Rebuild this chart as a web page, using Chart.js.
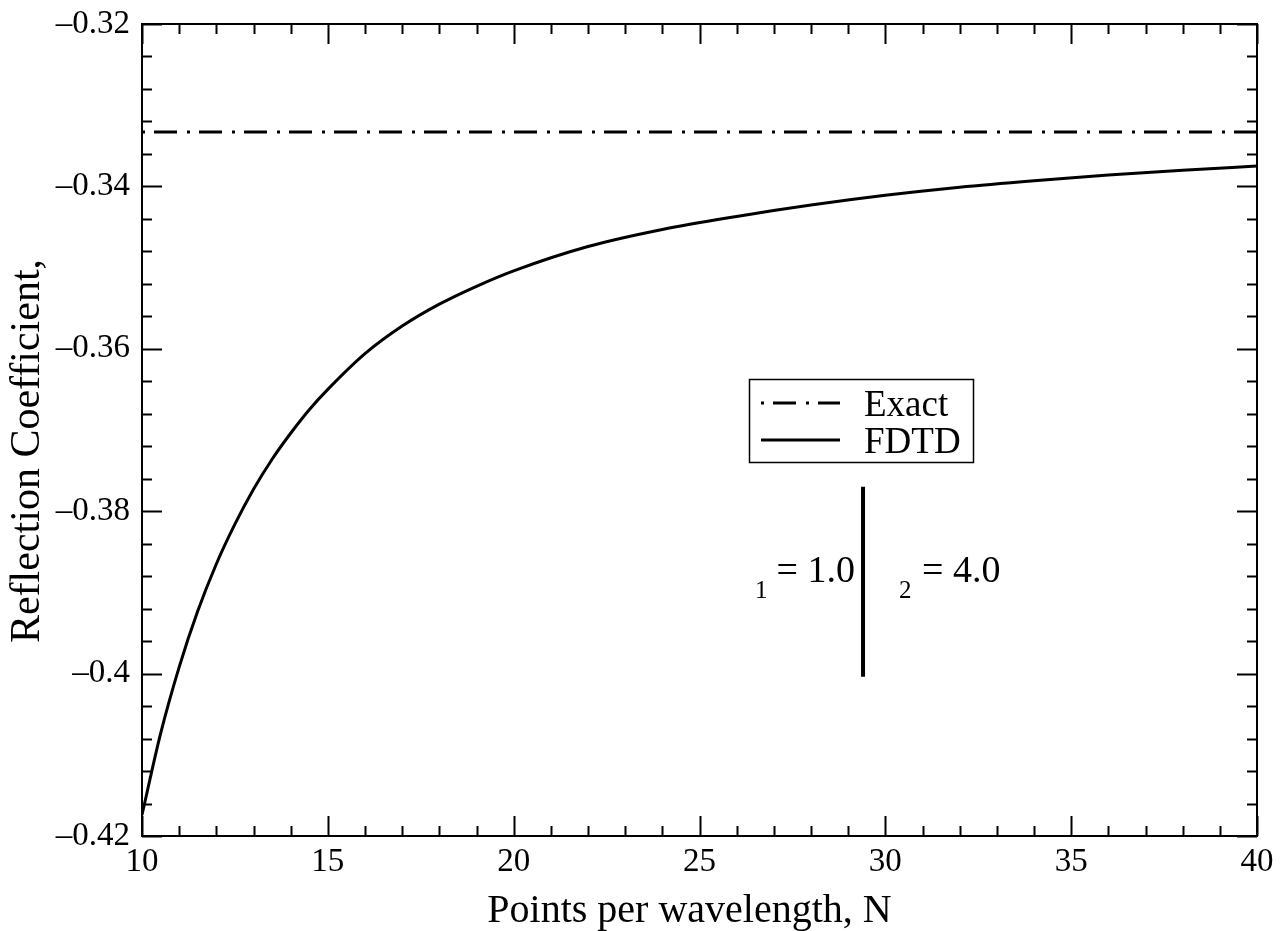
<!DOCTYPE html>
<html>
<head>
<meta charset="utf-8">
<script src="https://cdn.jsdelivr.net/npm/chart.js@4.4.1/dist/chart.umd.min.js"></script>
<style>
  html, body { margin: 0; padding: 0; background: #fff; }
</style>
</head>
<body>
<canvas id="reflChart" width="1285" height="931"></canvas>
<script>
// values
const fdtdN = [10, 10.5, 11, 11.5, 12, 12.5, 13, 13.5, 14, 14.5, 15, 16, 17, 18, 19, 20, 22, 24, 26, 28, 30, 32, 34, 36, 38, 40];
const fdtdR = [-0.4174, -0.4074, -0.3992, -0.3923, -0.3865, -0.3816, -0.3773, -0.3736, -0.3704, -0.3675, -0.3650,
               -0.3606, -0.3572, -0.3545, -0.3523, -0.3504, -0.3474, -0.3453, -0.3437, -0.3423, -0.3411, -0.3401,
               -0.3393, -0.3386, -0.3380, -0.3375];
const exactN = [10, 40];
const exactR = [-0.3333, -0.3333];
const interfaceN = [29.4, 29.4];
const interfaceR = [-0.3770, -0.4004];

const xTicks = [10, 15, 20, 25, 30, 35, 40];
const yTicks = [-0.42, -0.40, -0.38, -0.36, -0.34, -0.32];
const yTickLabels = ['\u20130.42', '\u20130.4', '\u20130.38', '\u20130.36', '\u20130.34', '\u20130.32'];

const serif = '"Liberation Serif", "Times New Roman", serif';

function toPoints(xs, ys) {
    return xs.map((v, i) => ({ x: v, y: ys[i] }));
}

// box, inward ticks on all four sides, legend and the two labels
const decorations = {
    id: 'decorations',
    afterDatasetsDraw(chart) {
        const { ctx, chartArea: a, scales: { x, y } } = chart;
        ctx.save();
        ctx.strokeStyle = '#000';
        ctx.fillStyle = '#000';
        ctx.lineWidth = 2;
        ctx.lineCap = 'butt';
        ctx.strokeRect(a.left, a.top, a.right - a.left, a.bottom - a.top);

        ctx.beginPath();
        for (let i = 0; i <= 30; i++) {
            const px = Math.round(x.getPixelForValue(x.min + i)) + 0.5;
            const len = i % 5 === 0 ? 20 : 10;
            ctx.moveTo(px, a.bottom); ctx.lineTo(px, a.bottom - len);
            ctx.moveTo(px, a.top); ctx.lineTo(px, a.top + len);
        }
        for (let i = 0; i <= 25; i++) {
            const py = Math.round(y.getPixelForValue(y.min + i * 0.004)) + 0.5;
            const len = i % 5 === 0 ? 20 : 10;
            ctx.moveTo(a.left, py); ctx.lineTo(a.left + len, py);
            ctx.moveTo(a.right, py); ctx.lineTo(a.right - len, py);
        }
        ctx.stroke();

        // legend
        const lx = a.left + 607, ly = a.top + 355;
        ctx.lineWidth = 1.5;
        ctx.strokeRect(lx + 0.5, ly + 0.5, 224, 83);
        ctx.font = '37px ' + serif;
        ctx.textBaseline = 'alphabetic';
        ctx.textAlign = 'left';
        chart.data.datasets.slice(0, 2).forEach((ds, i) => {
            const rowY = ly + 24 + i * 37;
            ctx.save();
            ctx.lineWidth = ds.borderWidth;
            ctx.setLineDash(ds.borderDash || []);
            ctx.beginPath();
            ctx.moveTo(lx + 12, rowY);
            ctx.lineTo(lx + 91, rowY);
            ctx.stroke();
            ctx.restore();
            ctx.fillText(ds.label, lx + 115, rowY + 13);
        });

        // medium labels either side of the interface
        const ix = x.getPixelForValue(interfaceN[0]);
        const base = y.getPixelForValue(-0.3887);
        ctx.font = '38px ' + serif;
        ctx.textAlign = 'right';
        ctx.fillText('= 1.0', ix - 8, base);
        const w1 = ctx.measureText('= 1.0').width;
        ctx.textAlign = 'left';
        ctx.fillText('= 4.0', ix + 59, base);
        ctx.font = '25px ' + serif;
        ctx.textAlign = 'right';
        ctx.fillText('1', ix - 8 - w1 - 9, base + 16);
        ctx.textAlign = 'left';
        ctx.fillText('2', ix + 36, base + 16);
        ctx.restore();
    }
};

const ctx = document.getElementById('reflChart').getContext('2d');

new Chart(ctx, {
    type: 'line',
    data: {
        datasets: [{
            label: 'Exact',
            data: toPoints(exactN, exactR),
            borderColor: '#000',
            borderWidth: 3,
            borderDash: [3, 9, 23, 10],
            borderCapStyle: 'butt',
            pointRadius: 0,
            fill: false
        }, {
            label: 'FDTD',
            data: toPoints(fdtdN, fdtdR),
            borderColor: '#000',
            borderWidth: 3,
            cubicInterpolationMode: 'monotone',
            pointRadius: 0,
            fill: false
        }, {
            label: 'interface',
            data: toPoints(interfaceN, interfaceR),
            borderColor: '#000',
            borderWidth: 4,
            borderCapStyle: 'butt',
            pointRadius: 0,
            fill: false
        }]
    },
    options: {
        responsive: false,
        animation: false,
        devicePixelRatio: 1,
        layout: { padding: { top: 24, right: 28, bottom: 0, left: 0 } },
        plugins: {
            legend: { display: false },
            tooltip: { enabled: false }
        },
        scales: {
            x: {
                type: 'linear',
                min: 10,
                max: 40,
                afterBuildTicks: s => { s.ticks = xTicks.map(v => ({ value: v })); },
                afterFit: s => { s.height = 95; s.paddingLeft = 0; s.paddingRight = 0; },
                grid: { display: false, drawTicks: false },
                border: { display: false },
                ticks: {
                    color: '#000',
                    padding: 7,
                    maxRotation: 0,
                    autoSkip: false,
                    font: { family: serif, size: 33 }
                },
                title: {
                    display: true,
                    text: 'Points per wavelength, N\u00a0\u00a0',
                    color: '#000',
                    font: { family: serif, size: 40, lineHeight: 1 },
                    padding: { top: 0, bottom: 0 }
                }
            },
            y: {
                type: 'linear',
                min: -0.42,
                max: -0.32,
                afterBuildTicks: s => { s.ticks = yTicks.map(v => ({ value: v })); },
                afterFit: s => { s.width = 142; s.paddingTop = 0; s.paddingBottom = 0; },
                grid: { display: false, drawTicks: false },
                border: { display: false },
                ticks: {
                    color: '#000',
                    padding: 12,
                    autoSkip: false,
                    font: { family: serif, size: 33 },
                    callback: (v, i) => yTickLabels[i]
                },
                title: {
                    display: true,
                    text: 'Reflection Coefficient,\u00a0\u00a0\u00a0\u00a0',
                    color: '#000',
                    font: { family: serif, size: 42, lineHeight: 1.2 },
                    padding: { top: 3, bottom: 0 }
                }
            }
        }
    },
    plugins: [decorations]
});
</script>
</body>
</html>
